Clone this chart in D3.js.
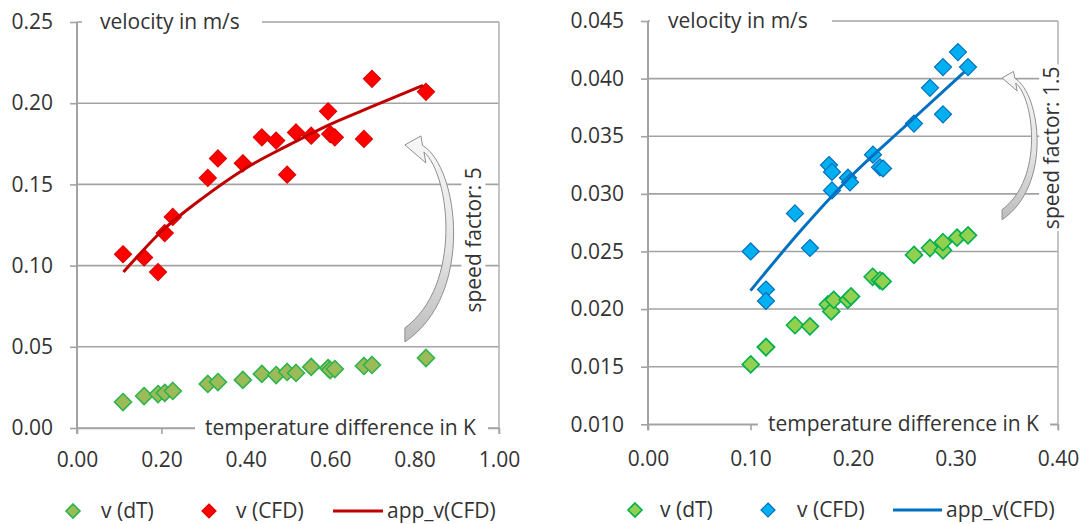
<!DOCTYPE html>
<html>
<head>
<meta charset="utf-8">
<script src="https://cdn.jsdelivr.net/npm/d3@7"></script>
<style>
  body { margin: 0; background: #fff; }
  text { font-family: "Open Sans", sans-serif; fill: #333; }
</style>
</head>
<body>
<svg id="chart" width="1086" height="524"></svg>
<script>
// ---- Left panel: speed factor 5 ----
const leftDT = [0.109, 0.159, 0.192, 0.208, 0.227, 0.310, 0.334, 0.393, 0.438, 0.472,
                0.498, 0.519, 0.555, 0.595, 0.600, 0.611, 0.680, 0.699, 0.827];
const leftVdT = [0.0160, 0.0197, 0.0209, 0.0216, 0.0228, 0.0271, 0.0283, 0.0296, 0.0333, 0.0326,
                 0.0345, 0.0339, 0.0376, 0.0369, 0.0357, 0.0363, 0.0382, 0.0388, 0.0431];
const leftVCFD = [0.107, 0.105, 0.096, 0.120, 0.130, 0.154, 0.166, 0.163, 0.179, 0.177,
                  0.156, 0.182, 0.180, 0.195, 0.181, 0.179, 0.178, 0.215, 0.207];
const leftAppDT = [0.11, 0.20, 0.30, 0.40, 0.50, 0.60, 0.70, 0.82];
const leftAppV  = [0.096, 0.121, 0.142, 0.160, 0.174, 0.187, 0.198, 0.211];
const leftXTicks = [0, 0.2, 0.4, 0.6, 0.8, 1.0];
const leftYTicks = [0, 0.05, 0.10, 0.15, 0.20, 0.25];

// ---- Right panel: speed factor 1.5 ----
const rightDTdT = [0.1002, 0.1151, 0.1151, 0.1434, 0.1580, 0.1755, 0.1788, 0.1812, 0.1949, 0.1981,
                   0.2192, 0.2263, 0.2289, 0.2595, 0.2751, 0.2878, 0.2878, 0.3015, 0.3122];
const rightVdT = [0.0152, 0.0167, 0.0167, 0.0186, 0.0185, 0.0204, 0.0198, 0.0208, 0.0208, 0.0211,
                  0.0228, 0.0225, 0.0224, 0.0247, 0.0253, 0.0251, 0.0258, 0.0262, 0.0264];
const rightDTCFD = [0.1002, 0.1151, 0.1151, 0.1434, 0.1580, 0.1766, 0.1795, 0.1795, 0.1951, 0.1971,
                    0.2195, 0.2263, 0.2293, 0.2595, 0.2751, 0.2878, 0.2878, 0.3024, 0.3122];
const rightVCFD = [0.0250, 0.0217, 0.0207, 0.0283, 0.0253, 0.0325, 0.0319, 0.0303, 0.0314, 0.0310,
                   0.0334, 0.0323, 0.0322, 0.0361, 0.0392, 0.0369, 0.0410, 0.0423, 0.0410];
const rightAppDT = [0.100, 0.150, 0.200, 0.250, 0.309];
const rightAppV  = [0.0216, 0.0269, 0.0317, 0.0358, 0.0406];
const rightXTicks = [0, 0.1, 0.2, 0.3, 0.4];
const rightYTicks = [0.010, 0.015, 0.020, 0.025, 0.030, 0.035, 0.040, 0.045];

const legendLabels = ["v (dT)", "v (CFD)", "app_v(CFD)"];
const yTitle = "velocity in m/s";
const xTitle = "temperature difference in K";

const svg = d3.select("#chart");

const defs = svg.append("defs");
const grad = defs.append("linearGradient").attr("id", "arrowFill")
  .attr("x1", 0).attr("y1", 0).attr("x2", 0).attr("y2", 1);
grad.append("stop").attr("offset", "0%").attr("stop-color", "#f7f7f7");
grad.append("stop").attr("offset", "55%").attr("stop-color", "#e4e4e4");
grad.append("stop").attr("offset", "100%").attr("stop-color", "#bdbdbd");

// square diamond marker
const diamond = {
  draw(ctx, size) {
    const r = Math.sqrt(size / 2);
    ctx.moveTo(0, -r); ctx.lineTo(r, 0); ctx.lineTo(0, r); ctx.lineTo(-r, 0); ctx.closePath();
  }
};
const marker = r => d3.symbol().type(diamond).size(2 * r * r)();

// curved block arrow: tip at (tx,ty), bends to the right and ends in a flat tail below
function arrowPath(tx, ty, s) {
  const p = (dx, dy) => `${tx + dx * s},${ty + dy * s}`;
  return `M${p(0, 0)} L${p(16, -9)} L${p(17.7, 0.5)}` +
         ` C${p(54, 22)} ${p(70, 150)} ${p(0, 197)}` +
         ` L${p(0, 183)}` +
         ` C${p(58, 140)} ${p(45, 30)} ${p(19, 7)}` +
         ` L${p(21, 18)} Z`;
}

function panel(cfg) {
  const g = svg.append("g");
  const x = d3.scaleLinear().domain(cfg.xDomain).range(cfg.xRange);
  const y = d3.scaleLinear().domain(cfg.yDomain).range(cfg.yRange);
  const [x0, x1] = cfg.xRange;
  const [yb, yt] = cfg.yRange;

  // horizontal gridlines
  g.append("g").selectAll("line").data(cfg.yTicks).join("line")
    .attr("x1", x0).attr("x2", x1)
    .attr("y1", d => y(d)).attr("y2", d => y(d))
    .attr("stroke", "#a3a3a3").attr("stroke-width", 1.6);

  // right frame line
  g.append("line").attr("x1", x1).attr("x2", x1).attr("y1", yt).attr("y2", yb + 6)
    .attr("stroke", "#b5b5b5").attr("stroke-width", 1.6);

  // y axis
  const ya = g.append("g").attr("transform", `translate(${x0},0)`)
    .call(d3.axisLeft(y).tickValues(cfg.yTicks).tickFormat(d3.format(cfg.yFmt))
      .tickSize(7).tickSizeOuter(0).tickPadding(17));
  ya.select(".domain").remove();
  ya.selectAll(".tick line").attr("stroke", "#a3a3a3").attr("stroke-width", 1.6);
  ya.selectAll("text").style("font-size", "21px").attr("fill", "#333");
  g.append("line").attr("x1", x0).attr("x2", x0).attr("y1", yt).attr("y2", yb + 6)
    .attr("stroke", "#a3a3a3").attr("stroke-width", 2);

  // x axis
  const xa = g.append("g").attr("transform", `translate(0,${yb})`)
    .call(d3.axisBottom(x).tickValues(cfg.xTicks).tickFormat(d3.format(".2f"))
      .tickSize(6).tickSizeOuter(0).tickPadding(cfg.xPad));
  xa.select(".domain").attr("stroke", "#a3a3a3").attr("stroke-width", 1.6);
  xa.selectAll(".tick line").attr("stroke", "#a3a3a3").attr("stroke-width", 1.6);
  xa.selectAll("text").style("font-size", "21px").attr("fill", "#333");

  // axis titles on white boxes
  g.append("rect").attr("x", cfg.yTitleBox[0]).attr("y", yt - 13)
    .attr("width", cfg.yTitleBox[1] - cfg.yTitleBox[0]).attr("height", 26).attr("fill", "#fff");
  g.append("text").attr("x", cfg.yTitleBox[0] + 18).attr("y", yt).attr("dy", "0.32em")
    .style("font-size", "21px").text(yTitle);
  g.append("rect").attr("x", cfg.xTitleBox[0]).attr("y", yb - 13)
    .attr("width", cfg.xTitleBox[1] - cfg.xTitleBox[0]).attr("height", 26).attr("fill", "#fff");
  g.append("text").attr("x", cfg.xTitleBox[0] + 10).attr("y", yb).attr("dy", "0.32em")
    .style("font-size", "21px").text(xTitle);

  // curved arrow
  g.append("path")
    .attr("d", arrowPath(x(cfg.arrow.x), y(cfg.arrow.y), cfg.arrow.s))
    .attr("fill", "url(#arrowFill)").attr("stroke", "#8f8f8f").attr("stroke-width", 1);

  // rotated annotation
  const ax = x(cfg.note.x), ay = y(cfg.note.y);
  const nt = g.append("g").attr("transform", `translate(${ax},${ay}) rotate(-90)`);
  const bg = nt.append("rect").attr("fill", "#fff");
  const t = nt.append("text").attr("text-anchor", "middle").attr("dy", "0.35em")
    .style("font-size", "21px").text(cfg.note.text);
  const bb = t.node().getBBox();
  bg.attr("x", bb.x - 2).attr("y", bb.y + 2).attr("width", bb.width + 4).attr("height", bb.height - 4);

  // v(dT) markers
  g.append("g").selectAll("path").data(cfg.dtX.map((d, i) => [d, cfg.dtY[i]])).join("path")
    .attr("d", marker(8.5))
    .attr("transform", d => `translate(${x(d[0])},${y(d[1])})`)
    .attr("fill", cfg.green.fill).attr("stroke", cfg.green.stroke).attr("stroke-width", 1.6);

  // v(CFD) markers
  g.append("g").selectAll("path").data(cfg.cfdX.map((d, i) => [d, cfg.cfdY[i]])).join("path")
    .attr("d", marker(8.5))
    .attr("transform", d => `translate(${x(d[0])},${y(d[1])})`)
    .attr("fill", cfg.cfd.fill).attr("stroke", cfg.cfd.stroke).attr("stroke-width", 1.2);

  // approximation curve
  g.append("path")
    .datum(cfg.appX.map((d, i) => [d, cfg.appY[i]]))
    .attr("d", d3.line().x(d => x(d[0])).y(d => y(d[1])).curve(d3.curveMonotoneX))
    .attr("fill", "none").attr("stroke", cfg.lineColor).attr("stroke-width", 3);

  // legend
  const L = cfg.legend, ly = cfg.legendY;
  const lg = g.append("g");
  lg.append("path").attr("d", marker(7)).attr("transform", `translate(${L[0]},${ly})`)
    .attr("fill", cfg.green.fill).attr("stroke", cfg.green.stroke).attr("stroke-width", 1.6);
  lg.append("text").attr("x", L[1]).attr("y", ly).attr("dy", "0.35em").style("font-size", "21px").text(legendLabels[0]);
  lg.append("path").attr("d", marker(7)).attr("transform", `translate(${L[2]},${ly})`)
    .attr("fill", cfg.cfd.fill).attr("stroke", cfg.cfd.stroke).attr("stroke-width", 1.2);
  lg.append("text").attr("x", L[3]).attr("y", ly).attr("dy", "0.35em").style("font-size", "21px").text(legendLabels[1]);
  lg.append("line").attr("x1", L[4]).attr("x2", L[5]).attr("y1", ly).attr("y2", ly)
    .attr("stroke", cfg.lineColor).attr("stroke-width", 3);
  lg.append("text").attr("x", L[6]).attr("y", ly).attr("dy", "0.35em").style("font-size", "21px").text(legendLabels[2]);
}

panel({
  xDomain: [0, 1], xRange: [77, 499],
  yDomain: [0, 0.25], yRange: [428, 22],
  xTicks: leftXTicks, yTicks: leftYTicks, yFmt: ".2f", xPad: 18,
  yTitleBox: [82, 262], xTitleBox: [195, 488],
  dtX: leftDT, dtY: leftVdT, cfdX: leftDT, cfdY: leftVCFD,
  appX: leftAppDT, appY: leftAppV,
  green: { fill: "#9bbb59", stroke: "#2eb34d" },
  cfd: { fill: "#ff0000", stroke: "#e00000" },
  lineColor: "#c00000",
  arrow: { x: 0.777, y: 0.1743, s: 1 },
  note: { x: 0.941, y: 0.1158, text: "speed factor: 5" },
  legend: [73, 101, 209, 236, 333, 383, 387], legendY: 511
});

panel({
  xDomain: [0, 0.4], xRange: [648, 1058],
  yDomain: [0.010, 0.045], yRange: [424.3, 21],
  xTicks: rightXTicks, yTicks: rightYTicks, yFmt: ".3f", xPad: 21,
  yTitleBox: [650, 832], xTitleBox: [758, 1050],
  dtX: rightDTdT, dtY: rightVdT, cfdX: rightDTCFD, cfdY: rightVCFD,
  appX: rightAppDT, appY: rightAppV,
  green: { fill: "#92d050", stroke: "#00b050" },
  cfd: { fill: "#00b0f0", stroke: "#0070c0" },
  lineColor: "#0070c0",
  arrow: { x: 0.3454, y: 0.04006, s: 0.72 },
  note: { x: 0.394, y: 0.034, text: "speed factor: 1.5" },
  legend: [635, 660, 768, 797, 893, 942, 946], legendY: 510
});
</script>
</body>
</html>
